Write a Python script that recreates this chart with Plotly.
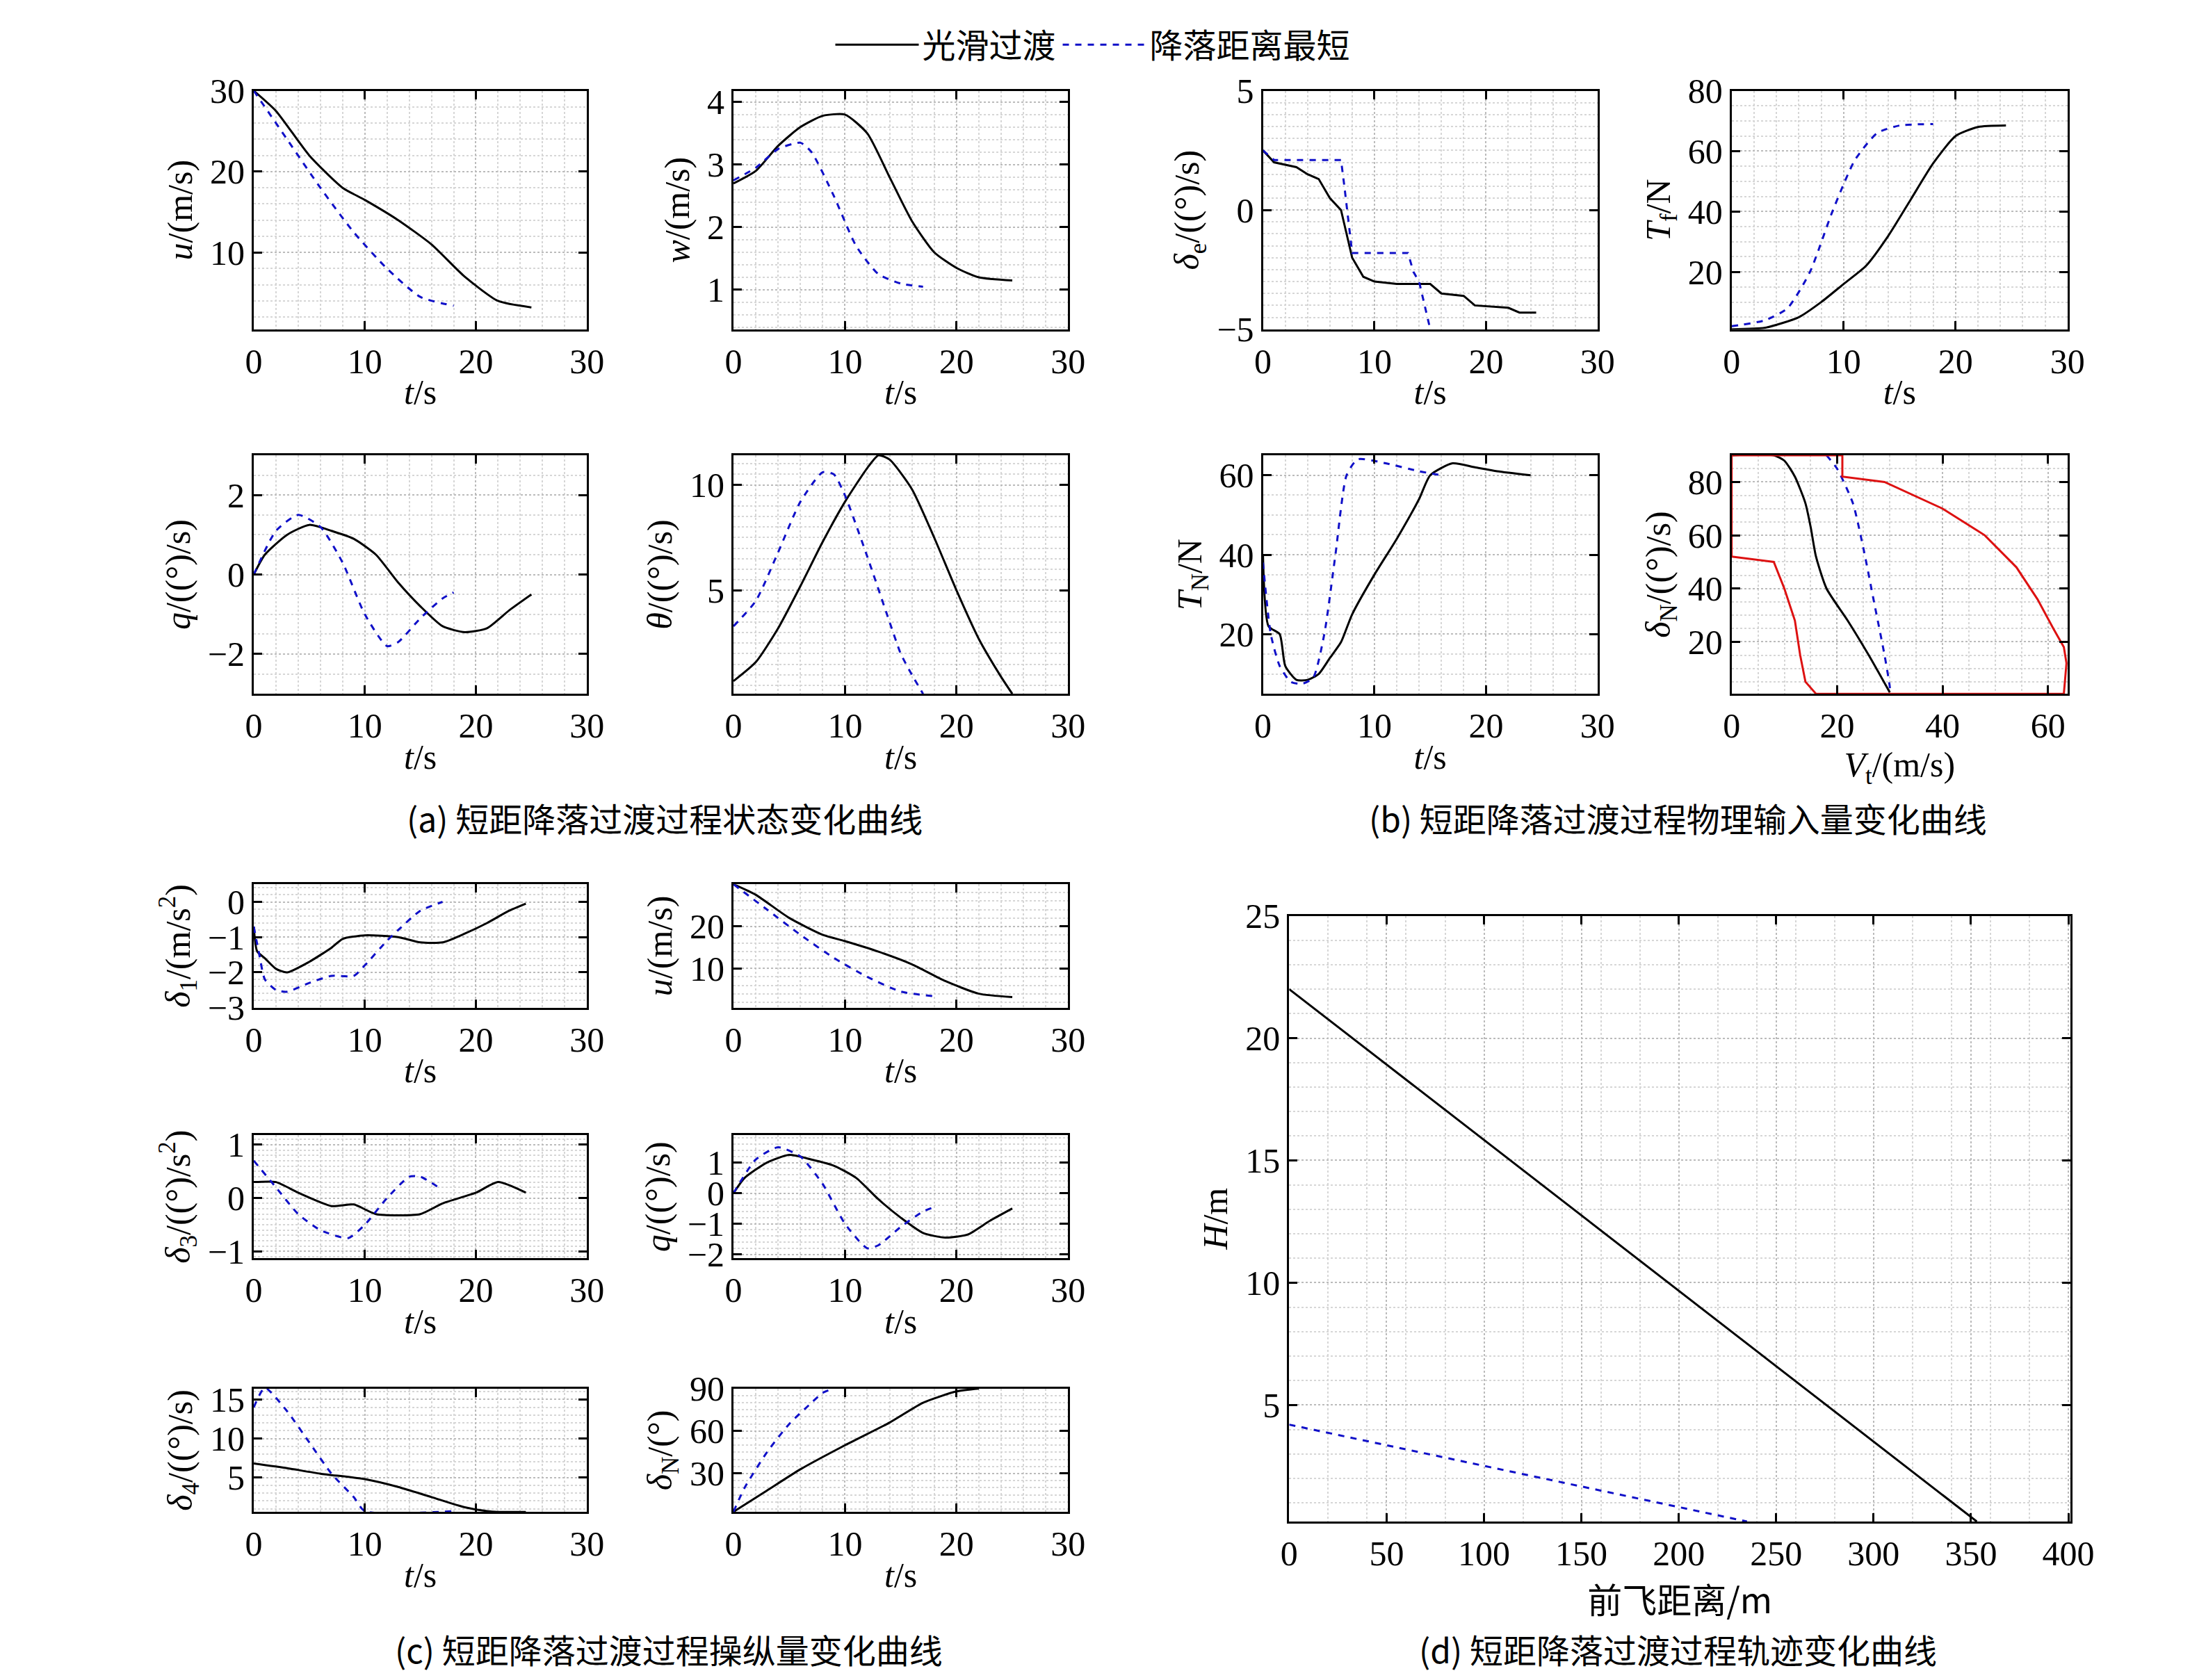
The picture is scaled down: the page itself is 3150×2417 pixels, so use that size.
import plotly.graph_objects as go

W, H = 1560.0, 1197.0   # layout measured on a half-size copy
FONT = 'Times New Roman, Liberation Serif, DejaVu Serif, serif'
CJK = 'Noto Sans CJK SC'

# panels: name, x0, x1, y0(top), y1(bottom), xrange, yrange, xticks, yticks, xtitle, ytitle
panels = [
    ('u1', 173, 414, 48, 222, [0, 30], [0.5, 30], [0, 10, 20, 30], [10, 20, 30], '<i>t</i>/s', '<i>u</i>/(m/s)'),
    ('w', 520, 762, 48, 222, [0, 30], [0.37, 4.18], [0, 10, 20, 30], [1, 2, 3, 4], '<i>t</i>/s', '<i>w</i>/(m/s)'),
    ('de', 903, 1145, 48, 222, [0, 30], [-5, 5], [0, 10, 20, 30], [-5, 0, 5], '<i>t</i>/s', '<i>δ</i><sub>e</sub>/((°)/s)'),
    ('tf', 1242, 1485, 48, 222, [0, 30], [1, 80], [0, 10, 20, 30], [20, 40, 60, 80], '<i>t</i>/s', '<i>T</i><sub>f</sub>/N'),
    ('q1', 173, 414, 314, 488, [0, 30], [-3, 3], [0, 10, 20, 30], [-2, 0, 2], '<i>t</i>/s', '<i>q</i>/((°)/s)'),
    ('th', 520, 762, 314, 488, [0, 30], [0.1, 11.4], [0, 10, 20, 30], [5, 10], '<i>t</i>/s', '<i>θ</i>/((°)/s)'),
    ('tn', 903, 1145, 314, 488, [0, 30], [5, 65], [0, 10, 20, 30], [20, 40, 60], '<i>t</i>/s', '<i>T</i><sub>N</sub>/N'),
    ('dv', 1242, 1485, 314, 488, [0, 63.7], [0.5, 90], [0, 20, 40, 60], [20, 40, 60, 80], '<i>V</i><sub>t</sub>/(m/s)', '<i>δ</i><sub>N</sub>/((°)/s)'),
    ('d1', 173, 414, 627, 717, [0, 30], [-3, 0.5], [0, 10, 20, 30], [-3, -2, -1, 0], '<i>t</i>/s', '<i>δ</i><sub>1</sub>/(m/s<sup>2</sup>)'),
    ('u2', 520, 762, 627, 717, [0, 30], [0.7, 30], [0, 10, 20, 30], [10, 20], '<i>t</i>/s', '<i>u</i>/(m/s)'),
    ('d3', 173, 414, 810, 900, [0, 30], [-1.13, 1.18], [0, 10, 20, 30], [-1, 0, 1], '<i>t</i>/s', '<i>δ</i><sub>3</sub>/((°)/s<sup>2</sup>)'),
    ('q2', 520, 762, 810, 900, [0, 30], [-2.13, 1.9], [0, 10, 20, 30], [-2, -1, 0, 1], '<i>t</i>/s', '<i>q</i>/((°)/s)'),
    ('d4', 173, 414, 995, 1085, [0, 30], [0.6, 16.4], [0, 10, 20, 30], [5, 10, 15], '<i>t</i>/s', '<i>δ</i><sub>4</sub>/((°)/s)'),
    ('dn', 520, 762, 995, 1085, [0, 30], [2.9, 90], [0, 10, 20, 30], [30, 60, 90], '<i>t</i>/s', '<i>δ</i><sub>N</sub>/(°)'),
    ('trj', 922, 1487, 650, 1092, [0, 401], [0.24, 25], [0, 50, 100, 150, 200, 250, 300, 350, 400], [5, 10, 15, 20, 25], '前飞距离/m', '<i>H</i>/m'),
]

u_s = dict(t=[0, 2, 5, 8, 10, 13, 16, 19, 22, 25], v=[30, 27.5, 22, 18, 16.5, 14, 11, 7, 4, 3.2])
u_d = dict(t=[0, 3, 6, 9, 12, 15, 18], v=[30, 24, 18, 12.5, 8, 4.5, 3.4])
q_s = dict(t=[0, 1, 3, 5, 7, 9, 11, 13, 15, 17, 19, 21, 23, 25], v=[0, 0.5, 1.0, 1.25, 1.1, 0.9, 0.5, -0.2, -0.8, -1.3, -1.45, -1.35, -0.9, -0.5])
q_d = dict(t=[0, 2, 4, 6, 8, 10, 12, 13, 15, 17, 18], v=[0, 1.1, 1.5, 1.2, 0.3, -1.0, -1.8, -1.7, -1.1, -0.6, -0.45])

data = {
    'u1': (u_s, u_d),
    'w': (dict(t=[0, 2, 4, 6, 8, 10, 12, 14, 16, 18, 20, 22, 25], v=[2.7, 2.9, 3.3, 3.6, 3.78, 3.8, 3.5, 2.8, 2.1, 1.6, 1.35, 1.2, 1.15]),
          dict(t=[0, 2, 4, 6, 7, 9, 11, 13, 15, 17], v=[2.75, 2.95, 3.25, 3.35, 3.2, 2.5, 1.7, 1.25, 1.1, 1.05])),
    'de': (dict(t=[0, 1, 3, 4, 5, 6, 7, 7.5, 8, 8.5, 9, 10, 12, 15, 16, 18, 19, 22, 23, 24.5],
                v=[2.5, 2.0, 1.8, 1.5, 1.3, 0.5, 0, -1, -2, -2.4, -2.8, -3.0, -3.1, -3.1, -3.5, -3.6, -4.0, -4.1, -4.3, -4.3]),
           dict(t=[0, 1, 7, 7.3, 8, 13, 13.5, 14, 14.5, 15], v=[2.5, 2.1, 2.1, 1, -1.8, -1.8, -2.6, -3.0, -4, -5])),
    'tf': (dict(t=[0, 3, 6, 8, 10, 12, 14, 16, 18, 20, 22, 24.5], v=[1, 1.5, 5, 10, 16, 22, 32, 44, 56, 65, 68, 68.5]),
           dict(t=[0, 3, 5, 7, 9, 11, 13, 15, 18], v=[2, 4, 8, 20, 40, 57, 66, 68.5, 69])),
    'q1': (q_s, q_d),
    'th': (dict(t=[0, 2, 4, 6, 8, 10, 12, 13, 14, 16, 18, 20, 22, 24, 25], v=[0.7, 1.6, 3.2, 5.2, 7.3, 9.2, 10.8, 11.4, 11.2, 9.8, 7.5, 5, 2.7, 0.9, 0.1]),
           dict(t=[0, 2, 4, 6, 8, 9, 10, 12, 14, 15, 16, 17], v=[3.3, 4.5, 6.8, 9.2, 10.6, 10.5, 9.5, 6.6, 3.5, 2.0, 1.0, 0.1])),
    'tn': (dict(t=[0, 0.5, 1.5, 2, 3, 4, 5, 6, 7, 8, 10, 12, 14, 15, 17, 19, 21, 24], v=[40, 22, 20, 12, 8.5, 8.5, 10, 14, 18, 25, 35, 44, 54, 60, 63, 62, 61, 60]),
           dict(t=[0, 0.7, 1.5, 2.5, 3.5, 4.5, 5.5, 6.5, 7.5, 8.5, 11, 14, 16], v=[38, 20, 12, 8, 7.5, 9, 20, 40, 60, 64, 63, 61, 60])),
    'dv': (dict(t=[0, 8, 10, 12, 14, 15, 16, 18, 22, 26, 30], v=[90, 90, 88, 82, 72, 63, 52, 40, 28, 15, 1]),
           dict(t=[18, 20, 23, 25, 27, 29, 30, 30], v=[90, 85, 72, 55, 35, 15, 3, 0.5])),
    'd1': (dict(t=[0, 0.3, 1, 2, 3, 5, 7, 8, 10, 13, 15, 17, 19, 21, 23, 24.5], v=[-0.7, -1.4, -1.6, -1.9, -2.0, -1.7, -1.3, -1.05, -0.95, -1.0, -1.15, -1.15, -0.9, -0.6, -0.25, -0.05]),
           dict(t=[0, 0.5, 1, 2, 3, 5, 7, 9, 10, 12, 13, 15, 17], v=[-0.7, -1.5, -2.2, -2.5, -2.55, -2.3, -2.1, -2.1, -1.8, -1.1, -0.8, -0.25, 0])),
    'u2': (u_s, u_d),
    'd3': (dict(t=[0, 2, 4, 7, 9, 11, 15, 17, 20, 22, 24.5], v=[0.3, 0.3, 0.1, -0.15, -0.12, -0.3, -0.3, -0.1, 0.1, 0.3, 0.1]),
           dict(t=[0, 2, 4, 6, 8.5, 10, 12, 14, 15, 17], v=[0.7, 0.2, -0.3, -0.6, -0.75, -0.5, 0, 0.4, 0.4, 0.15])),
    'q2': (q_s, q_d),
    'd4': (dict(t=[0, 3, 6, 10, 13, 16, 19, 21, 22, 24.5], v=[6.8, 6.2, 5.5, 4.8, 3.8, 2.5, 1.2, 0.7, 0.6, 0.6]),
           dict(t=[0, 1, 3, 5, 7, 9, 10, 18], v=[14, 16.5, 13.5, 9.5, 5.5, 2.5, 0.7, 0.7])),
    'dn': (dict(t=[0, 3, 6, 10, 14, 17, 20, 22], v=[3, 18, 33, 50, 66, 80, 88, 90]),
           dict(t=[0, 1, 3, 5, 7, 8, 9], v=[3, 20, 45, 65, 80, 87, 90])),
    'trj': (dict(t=[0, 353], v=[22, 0.24]), dict(t=[0, 235], v=[4.2, 0.24])),
}

# feasible boundary in the delta_N - V_t plane
bound_v = [0, 8, 10, 12, 13, 14, 16, 63, 63.5, 63, 61, 58, 54, 48, 40, 29, 21, 21, 0, 0]
bound_d = [52, 50, 40, 28, 15, 5, 0.5, 0.5, 12, 18, 25, 36, 48, 60, 70, 80, 82, 90, 90, 52]

fig = go.Figure()
for i, (name, x0, x1, y0, y1, xr, yr, xt, yt, xtit, ytit) in enumerate(panels):
    n = '' if i == 0 else str(i + 1)
    ax = dict(showline=True, linecolor='black', linewidth=3, mirror='ticks', ticks='inside', ticklen=12, tickwidth=3,
              tickcolor='black', showgrid=True, gridcolor='#bbbbbb', griddash='dot', gridwidth=1.5, zeroline=False,
              tickfont=dict(family=FONT, size=50, color='black'),
              minor=dict(showgrid=True, gridcolor='#d6d6d6', griddash='dot', gridwidth=1.5, nticks=5))
    fig.layout['xaxis' + n] = dict(ax, domain=[x0 / W, x1 / W], range=xr, tickvals=xt, anchor='y' + n,
                                   title=dict(text=xtit, font=dict(family=FONT if name != 'trj' else CJK, size=50), standoff=0))
    fig.layout['yaxis' + n] = dict(ax, domain=[1 - y1 / H, 1 - y0 / H], range=yr, tickvals=yt, anchor='x' + n,
                                   tickformat='d', title=dict(text=ytit, font=dict(family=FONT, size=50), standoff=10))
    smooth, short = data[name]
    fig.add_trace(go.Scatter(x=smooth['t'], y=smooth['v'], mode='lines', name='光滑过渡', showlegend=(i == 0),
                             line=dict(color='black', width=3, shape='spline', smoothing=0.6 if name != 'de' else 0),
                             xaxis='x' + n, yaxis='y' + n))
    fig.add_trace(go.Scatter(x=short['t'], y=short['v'], mode='lines', name='降落距离最短', showlegend=(i == 0),
                             line=dict(color='#1010c8', width=3, dash='dash', shape='spline', smoothing=0.6 if name != 'de' else 0),
                             xaxis='x' + n, yaxis='y' + n))
    if name == 'dv':
        fig.add_trace(go.Scatter(x=bound_v, y=bound_d, mode='lines', showlegend=False,
                                 line=dict(color='#dd1111', width=3), xaxis='x' + n, yaxis='y' + n))

captions = [(470, '(a) 短距降落过渡过程状态变化曲线', 578), (1203, '(b) 短距降落过渡过程物理输入量变化曲线', 578),
            (473, '(c) 短距降落过渡过程操纵量变化曲线', 1185), (1203, '(d) 短距降落过渡过程轨迹变化曲线', 1185)]
for x, text, y in captions:
    fig.add_annotation(x=x / W, y=1 - y / H, xref='paper', yref='paper', text=text, showarrow=False,
                       xanchor='center', yanchor='middle', font=dict(family=CJK, size=48, color='black'))

fig.update_layout(width=3150, height=2417, margin=dict(l=0, r=0, t=0, b=0),
                  plot_bgcolor='white', paper_bgcolor='white',
                  font=dict(family=FONT, size=48, color='black'),
                  legend=dict(orientation='h', x=0.5, xanchor='center', y=1.004, yanchor='top',
                              font=dict(family=CJK, size=48), itemwidth=120))
fig.write_html('out.html')
